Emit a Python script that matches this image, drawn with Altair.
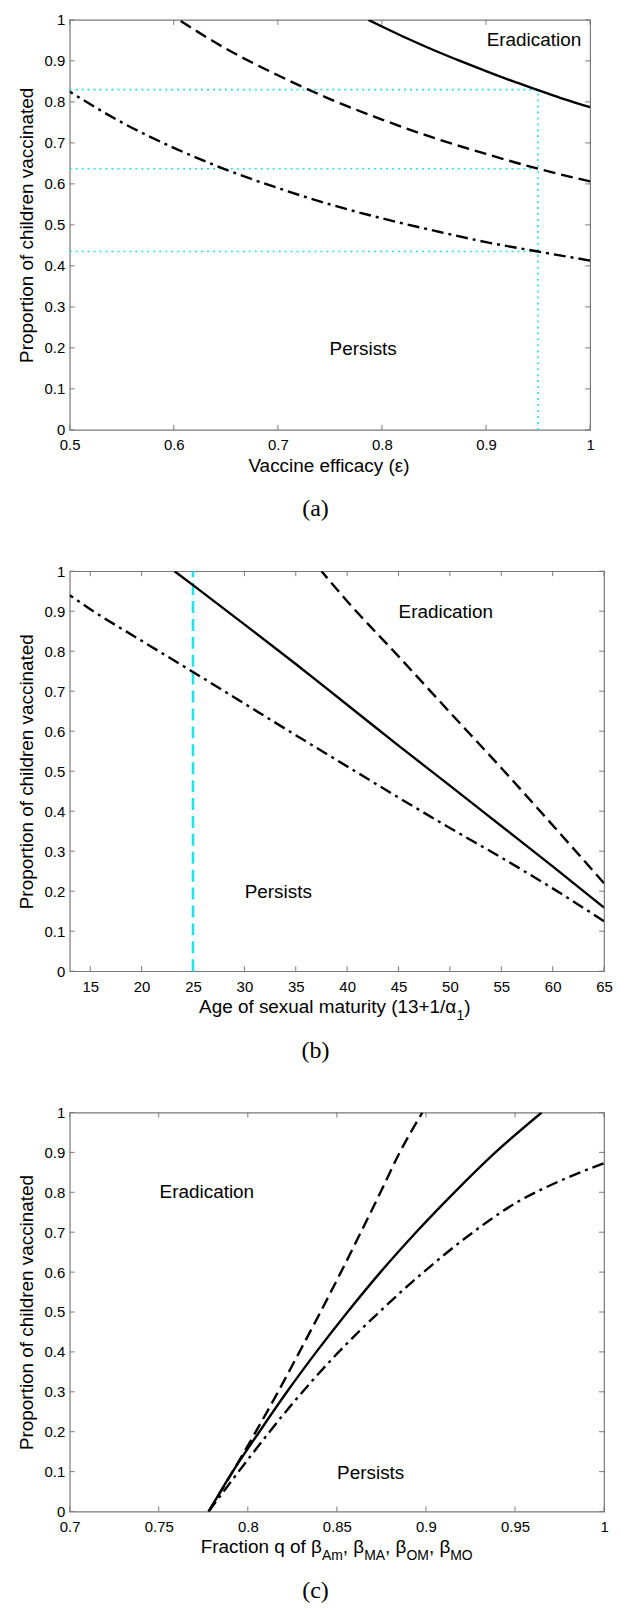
import altair as alt
import pandas as pd

# ---------------- data ----------------
# panel (a): vaccine efficacy
a_solid_x = [0.787, 0.80, 0.825, 0.85, 0.875, 0.90, 0.925, 0.95, 0.975, 1.00]
a_solid_y = [1.000, 0.984, 0.954, 0.926, 0.900, 0.875, 0.851, 0.829, 0.807, 0.787]
a_dash_x = [0.605, 0.65, 0.70, 0.75, 0.80, 0.85, 0.90, 0.95, 1.00]
a_dash_y = [1.000, 0.930, 0.865, 0.807, 0.757, 0.712, 0.673, 0.637, 0.606]
a_dd_x = [0.50, 0.55, 0.60, 0.65, 0.70, 0.75, 0.80, 0.85, 0.90, 0.95, 1.00]
a_dd_y = [0.825, 0.750, 0.688, 0.635, 0.590, 0.550, 0.516, 0.486, 0.458, 0.435, 0.413]
a_ref_levels = [0.830, 0.637, 0.435]
a_ref_eps = 0.95
a_xticks = [0.5, 0.6, 0.7, 0.8, 0.9, 1.0]

# panel (b): age of sexual maturity
b_solid_x = [23.2, 25, 30, 35, 40, 45, 50, 55, 60, 65]
b_solid_y = [1.000, 0.965, 0.867, 0.768, 0.666, 0.564, 0.464, 0.363, 0.262, 0.159]
b_dash_x = [37.5, 40, 45, 50, 55, 60, 65]
b_dash_y = [1.000, 0.925, 0.787, 0.647, 0.508, 0.365, 0.220]
b_dd_x = [13, 15, 20, 25, 30, 35, 40, 45, 50, 55, 60, 65]
b_dd_y = [0.940, 0.905, 0.826, 0.748, 0.669, 0.590, 0.512, 0.434, 0.358, 0.284, 0.207, 0.125]
b_ref_age = 25
b_xticks = [15, 20, 25, 30, 35, 40, 45, 50, 55, 60, 65]

# panel (c): fraction q
c_solid_x = [0.778, 0.7915, 0.8065, 0.822, 0.8385, 0.856, 0.8745, 0.8945, 0.916, 0.939, 0.965]
c_solid_y = [0.0, 0.1, 0.2, 0.3, 0.4, 0.5, 0.6, 0.7, 0.8, 0.9, 1.0]
c_dash_x = [0.778, 0.7915, 0.8045, 0.817, 0.829, 0.8408, 0.8523, 0.8635, 0.8745, 0.8853, 0.898]
c_dash_y = [0.0, 0.1, 0.2, 0.3, 0.4, 0.5, 0.6, 0.7, 0.8, 0.9, 1.0]
c_dd_x = [0.778, 0.80, 0.825, 0.85, 0.875, 0.90, 0.925, 0.95, 0.975, 1.0]
c_dd_y = [0.0, 0.13, 0.27, 0.395, 0.505, 0.605, 0.695, 0.772, 0.828, 0.873]
c_xticks = [0.7, 0.75, 0.8, 0.85, 0.9, 0.95, 1.0]

y_ticks = [0, 0.1, 0.2, 0.3, 0.4, 0.5, 0.6, 0.7, 0.8, 0.9, 1.0]

# region labels: (text, x, y)
a_notes = [("Eradication", 0.946, 0.95), ("Persists", 0.782, 0.198)]
b_notes = [("Eradication", 49.6, 0.899), ("Persists", 33.3, 0.199)]
c_notes = [("Eradication", 0.777, 0.80), ("Persists", 0.869, 0.096)]

# ---------------- style ----------------
FONT = "Liberation Sans"
FRAME = "#7a7a7a"
CYAN = "#1fe3ec"
LW = 2.4
DASH = [12, 6]
DASHDOT = [12, 5, 3, 5]

AW = {' ': 278, '(': 333, ')': 333, ',': 278, '+': 584, '/': 278, 'A': 667, 'F': 611,
      'M': 833, 'O': 778, 'V': 667, 'a': 556, 'c': 500, 'e': 556, 'f': 278, 'g': 556,
      'i': 222, 'l': 222, 'm': 833, 'n': 556, 'o': 556, 'q': 556, 'r': 333, 's': 500,
      't': 278, 'u': 556, 'x': 500, 'y': 500, 'α': 579, 'β': 574, 'ε': 450}


def text_width(s, fs):
    return sum(AW.get(ch, 556) for ch in s) * fs / 1000.0


def panel(W, H, xdom, xticks, xfmt, series, notes, extras, title_segs, title_x, caption):
    xs = alt.Scale(domain=xdom, nice=False, zero=False)
    ys = alt.Scale(domain=[0, 1], nice=False, zero=False)

    xaxis = alt.Axis(values=xticks, format=xfmt, labelFont=FONT, labelFontSize=15,
                     labelColor="black", domain=False, ticks=False, tickSize=0, grid=False,
                     labelPadding=8, title=None, labelFlush=False, labelOverlap=False)
    yaxis = alt.Axis(values=y_ticks, format=".1~f", labelFont=FONT, labelFontSize=15,
                     labelColor="black", domain=False, ticks=False, tickSize=0, grid=False,
                     labelPadding=5, title="Proportion of children vaccinated",
                     titleFont=FONT, titleFontSize=19, titleFontWeight="normal",
                     titleColor="black", titlePadding=8, labelFlush=False, labelOverlap=False)

    def X(f):
        return alt.X(f, scale=xs, axis=xaxis)

    def Y(f):
        return alt.Y(f, scale=ys, axis=yaxis)

    layers = []
    base = pd.DataFrame({"x": [xdom[0]], "y": [0]})

    # inward ticks (MATLAB style, on all four sides)
    xt = pd.DataFrame({"v": xticks})
    yt = pd.DataFrame({"v": y_ticks})
    tick = dict(color=FRAME, strokeWidth=1)
    layers.append(alt.Chart(xt).mark_rule(**tick).encode(
        x=X("v:Q"), y=alt.value(H), y2=alt.value(H - 5)))
    layers.append(alt.Chart(xt).mark_rule(**tick).encode(
        x=X("v:Q"), y=alt.value(0), y2=alt.value(5)))
    layers.append(alt.Chart(yt).mark_rule(**tick).encode(
        y=Y("v:Q"), x=alt.value(0), x2=alt.value(5)))
    layers.append(alt.Chart(yt).mark_rule(**tick).encode(
        y=Y("v:Q"), x=alt.value(W), x2=alt.value(W - 5)))

    for ex in extras:
        layers.append(ex(X, Y))

    for (sx, sy, dash) in series:
        df = pd.DataFrame({"x": sx, "y": sy})
        kw = dict(color="black", strokeWidth=LW, interpolate="monotone", clip=True)
        if dash:
            kw["strokeDash"] = dash
        layers.append(alt.Chart(df).mark_line(**kw).encode(
            x=X("x:Q"), y=Y("y:Q"), order=alt.Order("y:Q")))

    nd = pd.DataFrame({"t": [n[0] for n in notes], "x": [n[1] for n in notes],
                       "y": [n[2] for n in notes]})
    layers.append(alt.Chart(nd).mark_text(font=FONT, fontSize=19, color="black",
                                          align="center", baseline="middle").encode(
        x=X("x:Q"), y=Y("y:Q"), text="t:N"))

    # x-axis title built from segments (main text + subscripts)
    px = title_x
    base_y = H + 42
    for (s, fs, dy) in title_segs:
        layers.append(alt.Chart(base).mark_text(text=s, font=FONT, fontSize=fs, color="black",
                                                align="left", baseline="alphabetic").encode(
            x=alt.value(px), y=alt.value(base_y + dy)))
        px += text_width(s, fs)

    layers.append(alt.Chart(base).mark_text(text=caption, font="Liberation Serif", fontSize=24,
                                            color="black", align="center",
                                            baseline="middle").encode(
        x=alt.value(247), y=alt.value(H + 80)))

    return alt.layer(*layers).properties(width=W, height=H)


# extras for (a): cyan dotted guides
def a_guides(X, Y):
    hd = pd.DataFrame({"y": a_ref_levels, "x0": [0.5] * 3, "x1": [a_ref_eps] * 3})
    vd = pd.DataFrame({"x": [a_ref_eps], "y0": [0.0], "y1": [a_ref_levels[0]]})
    h = alt.Chart(hd).mark_rule(color=CYAN, strokeWidth=1.6, strokeDash=[2, 4]).encode(
        x=X("x0:Q"), x2="x1:Q", y=Y("y:Q"))
    v = alt.Chart(vd).mark_rule(color=CYAN, strokeWidth=1.6, strokeDash=[2, 4]).encode(
        x=X("x:Q"), y=Y("y0:Q"), y2="y1:Q")
    return alt.layer(h, v)


def b_guides(X, Y):
    vd = pd.DataFrame({"x": [b_ref_age], "y0": [0.0], "y1": [1.0]})
    return alt.Chart(vd).mark_rule(color=CYAN, strokeWidth=2.6, strokeDash=[12, 6]).encode(
        x=X("x:Q"), y=Y("y0:Q"), y2="y1:Q")


a_title = "Vaccine efficacy (ε)"
pa = panel(523, 412, [0.5, 1.0], a_xticks, ".1~f",
           [(a_solid_x, a_solid_y, None), (a_dash_x, a_dash_y, DASH), (a_dd_x, a_dd_y, DASHDOT)],
           a_notes, [a_guides], [(a_title, 19, 0)], 523 / 2 - text_width(a_title, 19) / 2, "(a)")

pb = panel(537, 402, [13, 65], b_xticks, "d",
           [(b_solid_x, b_solid_y, None), (b_dash_x, b_dash_y, DASH), (b_dd_x, b_dd_y, DASHDOT)],
           b_notes, [b_guides],
           [("Age of sexual maturity (13+1/α", 19, 0), ("1", 14, 7), (")", 19, 0)], 130, "(b)")

pc = panel(537, 401, [0.7, 1.0], c_xticks, ".2~f",
           [(c_solid_x, c_solid_y, None), (c_dash_x, c_dash_y, DASH), (c_dd_x, c_dd_y, DASHDOT)],
           c_notes, [],
           [("Fraction q of β", 19, 0), ("Am", 14, 7), (", β", 19, 0), ("MA", 14, 7),
            (", β", 19, 0), ("OM", 14, 7), (", β", 19, 0), ("MO", 14, 7)], 131.7, "(c)")

chart = alt.vconcat(pa, pb, pc, spacing=41).properties(
    padding={"left": 8, "top": 0, "right": 0, "bottom": 0},
    background="white",
).configure_view(stroke=FRAME, strokeWidth=1.2)

chart.save("out.html", embed_options={"renderer": "svg", "actions": False})
